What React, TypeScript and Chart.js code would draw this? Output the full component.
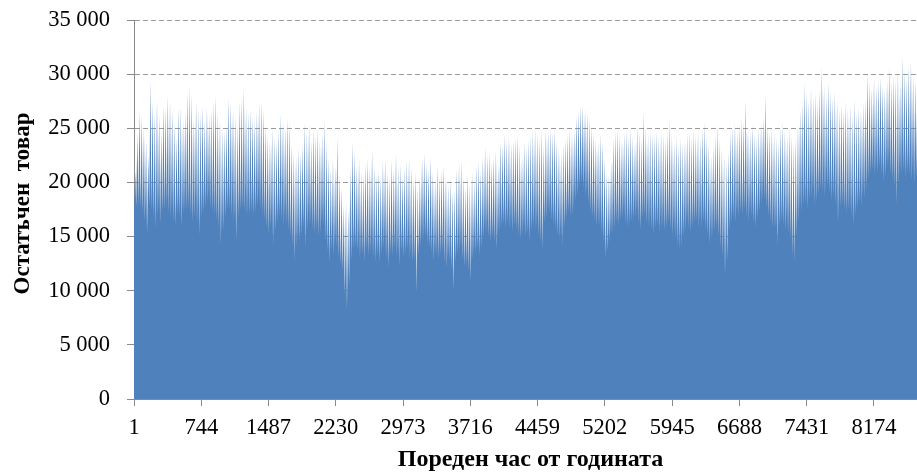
import React, { useEffect, useRef } from 'react';
import { Chart, registerables } from 'chart.js';

Chart.register(...registerables);

// Hour-of-year tick labels shown on the category axis
const xTickLabels = [1, 744, 1487, 2230, 2973, 3716, 4459, 5202, 5945, 6688, 7431, 8174];
// Value axis ticks
const yTickValues = [0, 5000, 10000, 15000, 20000, 25000, 30000, 35000];
const hoursInYear = 8760;
const xTitle = 'Пореден час от годината';
const yTitle = 'Остатъчен  товар';

// Daily maximum of the residual load, 365 days
const dailyPeak = [
  21000, 24500, 26700, 26200, 25000, 23800, 22500,
  29400, 27500, 26500, 27700, 26200, 24800, 27200,
  27000, 28100, 27600, 26800, 25500, 24200, 27000,
  27000, 25800, 26500, 28400, 28800, 28200, 26000,
  27500, 26800, 26500, 27200, 25800, 27000, 26200,
  26800, 27400, 28100, 26500, 25800, 25000, 24800,
  25300, 27900, 27400, 26800, 26200, 25500, 27500,
  27800, 28800, 27000, 26500, 26800, 26200, 25800,
  26600, 27400, 27600, 26800, 25300, 24500, 23900,
  25000, 24200, 23800, 24800, 26400, 25800, 25200,
  26000, 25600, 23600, 22800, 22500, 23200, 22700,
  23500, 25600, 24800, 25400, 23900, 25000, 24400,
  25000, 24000, 24600, 25800, 23600, 22400, 21300,
  22200, 21500, 24200, 20700, 19500, 17900, 18200,
  17500, 21500, 23800, 22900, 21600, 22200, 21000,
  20700, 21800, 22200, 21500, 23100, 21600, 20800,
  21200, 20500, 22000, 22200, 21000, 20400, 22100,
  21300, 22700, 21500, 21800, 20600, 21400, 22100,
  22200, 21500, 20400, 21000, 19600, 20500, 22300,
  22700, 21800, 21300, 22400, 21000, 20300, 21600,
  20500, 21200, 21600, 20800, 19800, 20300, 19200,
  19300, 21300, 21800, 22000, 20600, 19500, 20800,
  19800, 21000, 20200, 21600, 22000, 21200, 22400,
  23300, 22600, 22800, 21900, 22400, 23000, 21600,
  23800, 23500, 24500, 24000, 24300, 23600, 23900,
  24200, 24400, 23400, 22500, 23800, 23200, 24000,
  24400, 24800, 25000, 24600, 24200, 24900, 23400,
  25000, 24800, 25000, 24600, 25000, 23900, 23200,
  22800, 23600, 24000, 24400, 25000, 24600, 24800,
  26200, 26600, 27100, 27200, 26800, 26500, 26000,
  25300, 24600, 24000, 23800, 24500, 23900, 22200,
  21000, 20700, 22000, 24200, 24800, 25000, 24500,
  24000, 24600, 24900, 24300, 25000, 24200, 23800,
  25300, 24700, 24000, 26500, 25000, 24400, 24800,
  24600, 24400, 24800, 24200, 24700, 24400, 24000,
  24800, 25800, 24500, 23800, 24300, 23500, 24200,
  23600, 24000, 24600, 24800, 24200, 24900, 24400,
  24700, 24000, 25000, 25600, 24300, 23700, 22500,
  23500, 24400, 25400, 24000, 23200, 22500, 22000,
  22800, 24800, 25200, 25600, 24900, 25300, 26000,
  25600, 27600, 25000, 24700, 25400, 24600, 24200,
  25000, 25500, 26000, 28100, 25300, 24800, 25100,
  24600, 24200, 23800, 25200, 25600, 24900, 24400,
  25100, 24400, 23600, 24200, 25400, 26800, 27500,
  29300, 28400, 27600, 28800, 27900, 28300, 27500,
  28600, 30700, 29000, 28200, 29300, 28500, 27800,
  28400, 27600, 26800, 27300, 26600, 27500, 26900,
  27200, 26200, 27800, 26500, 27000, 26800, 27400,
  27600, 30200, 29200, 28700, 29600, 28900, 29400,
  29800, 29000, 28600, 29500, 30700, 29300, 29900,
  29600, 30300, 29200, 31600, 30400, 29700, 30800,
  31200, 30000, 29500, 30600, 29400, 28800, 28200,
  27500,
];

// Daily minimum of the residual load, 365 days
const dailyTrough = [
  17500, 17800, 18000, 17600, 17200, 16500, 15300,
  17800, 17400, 16800, 15800, 16900, 16200, 17300,
  17500, 17900, 17200, 16800, 16400, 16000, 17100,
  16800, 15900, 17000, 17400, 17600, 17000, 16300,
  16800, 16200, 15100, 16700, 17200, 17700, 18200,
  17600, 17300, 17000, 16500, 15800, 14200, 15600,
  16800, 17400, 17500, 16900, 16400, 14500, 16800,
  17400, 17600, 17200, 16800, 17000, 17300, 16900,
  17200, 17800, 17400, 17000, 16500, 15800, 15200,
  15900, 14200, 15500, 16400, 16800, 16500, 16000,
  16200, 15500, 15000, 14200, 12800, 14100, 14500,
  15200, 15800, 13900, 15600, 16000, 15700, 15200,
  15600, 15000, 15300, 15800, 14600, 13600, 12600,
  13800, 13200, 14000, 13000, 12300, 11800, 9600,
  8200, 10500, 12800, 13800, 14000, 13600, 13100,
  13400, 12700, 13800, 13200, 13600, 13000, 12600,
  13300, 12600, 13400, 13900, 13000, 12200, 13500,
  13200, 13900, 13200, 12300, 13600, 13100, 13400,
  13800, 13000, 12600, 12800, 9800, 13200, 14200,
  14600, 15000, 14300, 14000, 13500, 12800, 13200,
  13000, 13400, 13700, 12600, 12100, 12800, 12000,
  9900, 12600, 13300, 13600, 12800, 12200, 12400,
  11800, 10800, 12900, 13500, 13800, 13200, 14000,
  14800, 15300, 14900, 14500, 15000, 14600, 13800,
  15500, 15900, 16100, 15700, 16200, 15800, 15400,
  16000, 15600, 15100, 14700, 15200, 15000, 15300,
  14500, 15400, 15900, 15600, 15100, 14400, 13800,
  16200, 16700, 17000, 16500, 16100, 15700, 15000,
  14800, 14200, 15800, 16600, 17200, 16900, 17000,
  18300, 18800, 19600, 20000, 19400, 18700, 18000,
  17200, 16800, 16500, 16000, 15900, 15300, 14500,
  13000, 13600, 14400, 15200, 15800, 16300, 16000,
  16500, 16800, 16200, 15800, 16100, 16400, 16600,
  16800, 16300, 15600, 16700, 16900, 16200, 15900,
  15600, 15200, 15800, 16000, 15400, 15700, 15500,
  15800, 16200, 15600, 15100, 14900, 14200, 13800,
  14100, 15000, 15500, 15700, 15400, 15900, 16200,
  16400, 15800, 15900, 16300, 15600, 15100, 14300,
  14800, 15500, 15800, 15000, 14000, 13200, 11400,
  12800, 15600, 16200, 16700, 16300, 16800, 17200,
  17000, 17500, 16800, 16400, 16900, 16200, 15800,
  16600, 17300, 18000, 18400, 17600, 16900, 16300,
  15800, 15600, 14200, 15900, 16400, 16000, 15600,
  15300, 14800, 13200, 12700, 15000, 16400, 17200,
  17800, 18000, 17500, 18300, 18600, 17900, 18200,
  18800, 19400, 19100, 18600, 19500, 19000, 18300,
  18700, 17900, 16200, 17700, 18000, 17400, 17100,
  17500, 16800, 15900, 16900, 17600, 18100, 17800,
  18600, 19300, 20300, 20800, 21200, 20600, 20900,
  21400, 20800, 20100, 20500, 21300, 20700, 20200,
  19600, 17900, 19800, 20600, 21000, 20400, 20900,
  20700, 20200, 19800, 20500, 19600, 18800, 18400,
  18000,
];

const FONT_FAMILY = "'Liberation Serif', 'Times New Roman', serif";

function formatThousands(v: number): string {
  return String(v).replace(/\B(?=(\d{3})+(?!\d))/g, ' ');
}

// Draws the rotated value-axis title next to the plot
const yTitlePlugin = {
  id: 'yTitlePlugin',
  afterDraw(chart: any) {
    const ctx = chart.ctx;
    const area = chart.chartArea;
    ctx.save();
    ctx.translate(23, (area.top + area.bottom) / 2 - 6);
    ctx.rotate(-Math.PI / 2);
    ctx.font = `bold 23px ${FONT_FAMILY}`;
    ctx.fillStyle = '#000';
    ctx.textAlign = 'center';
    ctx.textBaseline = 'middle';
    ctx.fillText(yTitle, 0, 0);
    ctx.restore();
  },
};

export default function App() {
  const canvasRef = useRef<HTMLCanvasElement>(null);

  useEffect(() => {
    if (!canvasRef.current) return;
    const points: { x: number; y: number }[] = [];
    for (let d = 0; d < dailyPeak.length; d++) {
      points.push({ x: d * 24 + 1, y: dailyTrough[d] });
      points.push({ x: d * 24 + 15, y: dailyPeak[d] });
    }

    const chart = new Chart(canvasRef.current, {
      type: 'line',
      data: {
        datasets: [
          {
            data: points,
            fill: 'origin',
            backgroundColor: '#4F81BD',
            borderWidth: 0,
            borderColor: 'rgba(0,0,0,0)',
            pointRadius: 0,
            tension: 0,
          },
        ],
      },
      plugins: [yTitlePlugin],
      options: {
        animation: false,
        responsive: false,
        devicePixelRatio: 1,
        layout: { padding: { top: 20, left: 0, right: 0, bottom: 0 } },
        plugins: {
          legend: { display: false },
          tooltip: { enabled: false },
        },
        scales: {
          x: {
            type: 'linear',
            min: 1,
            max: hoursInYear,
            afterBuildTicks: (scale: any) => {
              scale.ticks = xTickLabels.map((v) => ({ value: v }));
            },
            afterFit: (scale: any) => {
              scale.height = 75;
            },
            ticks: {
              autoSkip: false,
              maxRotation: 0,
              padding: 9,
              color: '#000',
              font: { family: FONT_FAMILY, size: 22.5 },
              callback: (v: any) => String(v),
            },
            grid: {
              drawOnChartArea: false,
              tickLength: 7,
              tickColor: '#8a8a8a',
            },
            border: { color: '#8a8a8a', width: 1 },
            title: {
              display: true,
              text: xTitle,
              color: '#000',
              font: { family: FONT_FAMILY, size: 24, weight: 'bold' },
              padding: { top: 0, bottom: 0 },
            },
          },
          y: {
            min: 0,
            max: 35000,
            afterBuildTicks: (scale: any) => {
              scale.ticks = yTickValues.map((v) => ({ value: v }));
            },
            afterFit: (scale: any) => {
              scale.width = 134;
              scale.paddingTop = 0;
              scale.paddingBottom = 0;
            },
            ticks: {
              padding: 17,
              color: '#000',
              font: { family: FONT_FAMILY, size: 22.5 },
              callback: (v: any) => formatThousands(Number(v)),
            },
            grid: {
              color: '#9a9a9a',
              lineWidth: 1,
              tickLength: 7,
              tickColor: '#8a8a8a',
              tickBorderDash: [],
            },
            border: { color: '#8a8a8a', width: 1, dash: [5, 3] },
            title: { display: false },
          },
        },
      },
    } as any);

    return () => chart.destroy();
  }, []);

  return (
    <div
      style={{
        position: 'absolute',
        left: 0,
        top: 0,
        width: 917,
        height: 474,
        overflow: 'hidden',
        background: '#fff',
      }}
    >
      <canvas
        ref={canvasRef}
        width={927}
        height={474}
        style={{ display: 'block', width: 927, height: 474 }}
      />
    </div>
  );
}
